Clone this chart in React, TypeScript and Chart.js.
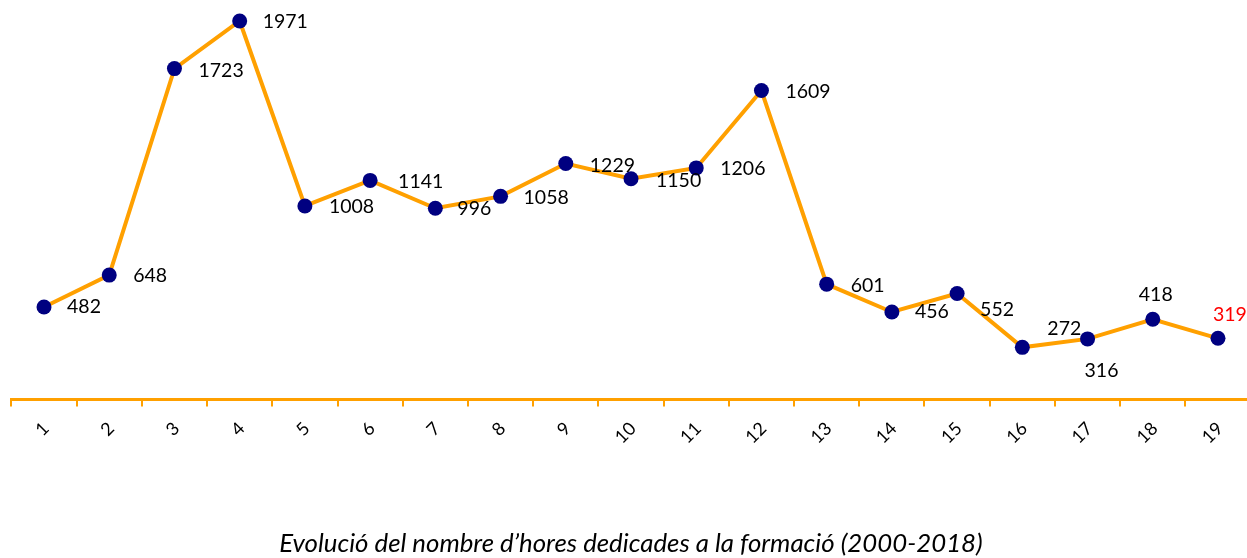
import React, { useEffect, useRef } from "react";
import { Chart, registerables } from "chart.js";

Chart.register(...registerables);

const categories = ["1","2","3","4","5","6","7","8","9","10","11","12","13","14","15","16","17","18","19"];
const hours = [482, 648, 1723, 1971, 1008, 1141, 996, 1058, 1229, 1150, 1206, 1609, 601, 456, 552, 272, 316, 418, 319];
const titleText = "Evolució del nombre d’hores dedicades a la formació (2000-2018)";

// label placement relative to each point (left edge dx, vertical centre dy)
const labelDx = [23, 24, 24, 23, 24, 28, 22, 23, 24, 25, 24, 24, 24, 23, 23, 25, -3, -14, -5];
const labelDy = [0, 1, 2, 1, 1, 1, 0, 1, 2, 2, 1, 1, 2, 0, 16, -19, 32, -25, -24];
const labelColors = hours.map((_, i) => (i === hours.length - 1 ? "#FF0000" : "#000000"));

const ORANGE = "#FFA000";
const NAVY = "#000080";
const FONT = "Lato, 'Open Sans', sans-serif";

const labelPlugin = {
  id: "pointLabels",
  afterDatasetsDraw(chart: any) {
    const ctx = chart.ctx;
    const meta = chart.getDatasetMeta(0);
    ctx.save();
    ctx.font = `19.5px ${FONT}`;
    ctx.textAlign = "left";
    ctx.textBaseline = "middle";
    meta.data.forEach((pt: any, i: number) => {
      ctx.fillStyle = labelColors[i];
      ctx.fillText(String(hours[i]), pt.x + labelDx[i], pt.y + labelDy[i]);
    });
    ctx.restore();
  },
};

const tickLabelPlugin = {
  id: "rotTicks",
  afterDraw(chart: any) {
    const ctx = chart.ctx;
    const xs = chart.scales.x;
    ctx.save();
    ctx.font = `18px ${FONT}`;
    ctx.fillStyle = "#000000";
    ctx.textAlign = "right";
    ctx.textBaseline = "middle";
    categories.forEach((c, i) => {
      const x = xs.getPixelForValue(i);
      ctx.save();
      ctx.translate(x + 2, xs.top + 26);
      ctx.rotate(-Math.PI / 4);
      ctx.fillText(c, 0, 0);
      ctx.restore();
    });
    ctx.restore();
  },
};

export default function App() {
  const ref = useRef<HTMLCanvasElement | null>(null);
  useEffect(() => {
    document.body.style.overflow = "hidden";
    const chart = new Chart(ref.current as HTMLCanvasElement, {
      type: "line",
      data: {
        labels: categories,
        datasets: [
          {
            data: hours,
            borderColor: ORANGE,
            borderWidth: 4,
            pointBackgroundColor: NAVY,
            pointBorderColor: NAVY,
            pointRadius: 7.5,
            pointBorderWidth: 0,
            tension: 0,
            clip: false as any,
          },
        ],
      },
      options: {
        animation: false,
        responsive: false,
        layout: { autoPadding: false, padding: { left: 11.4, right: 1.4, top: 15.4, bottom: 1 } },
        plugins: {
          legend: { display: false },
          tooltip: { enabled: false },
          title: {
            display: true,
            text: titleText,
            position: "bottom",
            color: "#000000",
            font: { family: FONT, size: 25.8, style: "italic", weight: "normal", lineHeight: 1.0 },
            padding: { top: 0, bottom: 0 },
          },
        },
        scales: {
          y: { display: false, min: 0, max: 2000 },
          x: {
            offset: true,
            grid: {
              display: true,
              offset: true,
              drawOnChartArea: false,
              drawTicks: true,
              tickLength: 7,
              color: ORANGE,
              lineWidth: 2,
            },
            border: { display: true, color: ORANGE, width: 3 },
            ticks: { display: false },
            afterFit: (scale: any) => {
              scale.height = 131.6;
            },
          },
        },
      },
      plugins: [labelPlugin, tickLabelPlugin],
    });
    return () => chart.destroy();
  }, []);
  return (
    <div style={{ position: "fixed", left: 0, top: 0, width: 1252, height: 558 }}>
      <canvas ref={ref} width={1252} height={558} style={{ display: "block" }} />
    </div>
  );
}
